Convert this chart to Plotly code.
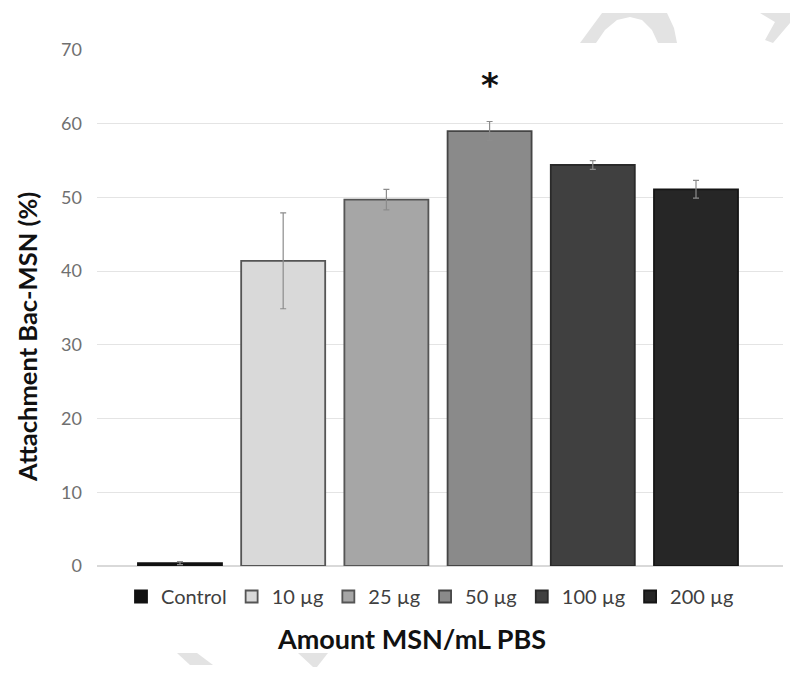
import plotly.graph_objects as go

groups = ["Control", "10 µg", "25 µg", "50 µg", "100 µg", "200 µg"]
values = [0.4, 41.4, 49.7, 59.0, 54.4, 51.1]
errors = [0.2, 6.5, 1.4, 1.3, 0.6, 1.2]
colors = ["#111111", "#d9d9d9", "#a6a6a6", "#8a8a8a", "#404040", "#262626"]
outlines = ["#111111", "#555555", "#555555", "#454545", "#2a2a2a", "#151515"]
y_ticks = [0, 10, 20, 30, 40, 50, 60, 70]
star_group = "50 µg"
star_y = 65.3

FONT = "Lato"
# page has an 8px body margin; plot area target (screen px): x 97..783, y 50..566
OFF = 8
L, R, B, T = 97, 783, 566, 50
W, H = 800, 679

def px(x, y):
    return (x - L) / (R - L), (B - y) / (B - T)

fig = go.Figure()
for i, (g, v, e, c, o) in enumerate(zip(groups, values, errors, colors, outlines)):
    fig.add_trace(go.Bar(
        x=[i], y=[v], name=g, width=0.814,
        marker=dict(color=c, line=dict(color=o, width=1.8)),
        error_y=dict(type="data", array=[e], color="#8c8c8c", thickness=1.2, width=3),
    ))

fig.add_annotation(x=groups.index(star_group), y=star_y, text="<b>*</b>", showarrow=False,
                   font=dict(size=34, color="#111111", family="DejaVu Sans"), yanchor="middle")

# axis titles as annotations
xt = px(411, 638)
fig.add_annotation(x=xt[0], y=xt[1], xref="paper", yref="paper", text="<b>Amount MSN/mL PBS</b>",
                   showarrow=False, xanchor="center", yanchor="middle",
                   font=dict(size=27, color="#111111", family=FONT))
yt = px(27, 337)
fig.add_annotation(x=yt[0], y=yt[1], xref="paper", yref="paper", text="<b>Attachment Bac-MSN (%)</b>",
                   showarrow=False, xanchor="center", yanchor="middle", textangle=-90,
                   font=dict(size=25.5, color="#111111", family=FONT))

# pale watermark fragments (decoration)
def path(pts):
    s = ""
    for k, (x, y) in enumerate(pts):
        a, b = px(x, y)
        s += ("M" if k == 0 else "L") + f"{a:.4f},{b:.4f} "
    return s + "Z"
marks = [
    [(580, 43), (602, 13), (667, 13), (674, 28), (677, 43), (658, 43), (652, 30), (642, 20), (630, 17), (617, 20), (605, 30), (596, 43)],
    [(760, 13), (790, 13), (790, 23), (773, 43), (765, 40), (775, 22)],
    [(177, 653), (197, 653), (213, 665), (190, 665)],
    [(298, 653), (328, 653), (317, 667), (313, 667)],
]
for m in marks:
    fig.add_shape(type="path", path=path(m), xref="paper", yref="paper",
                  fillcolor="#e3e3e3", line=dict(width=0), layer="below")

lg = px(430, 577)
fig.update_layout(
    width=W, height=H,
    margin=dict(l=L - OFF, r=W - (R - OFF), t=T - OFF, b=H - (B - OFF)),
    plot_bgcolor="white", paper_bgcolor="white",
    barmode="overlay",
    showlegend=True,
    legend=dict(orientation="h", x=lg[0], xanchor="center", y=lg[1], yanchor="top",
                font=dict(size=20, color="#404040", family=FONT),
                itemwidth=30, traceorder="normal"),
    xaxis=dict(range=[-0.804, 5.843], showticklabels=False, showgrid=False,
               zeroline=False, showline=False),
    yaxis=dict(range=[0, 70], tickvals=y_ticks, showgrid=True, gridcolor="#e4e4e4", gridwidth=1,
               zeroline=True, zerolinecolor="#d9d9d9", zerolinewidth=1.5,
               tickfont=dict(size=18, color="#707070", family=FONT), ticks="",
               ticklabelstandoff=14),
)
fig.write_html("out.html")
